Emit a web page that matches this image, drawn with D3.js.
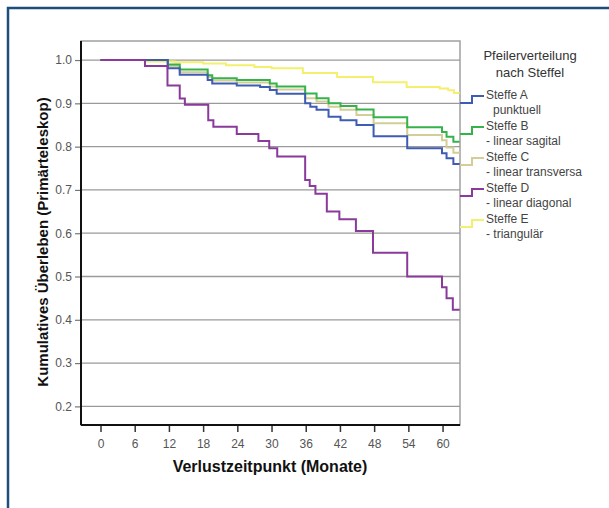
<!DOCTYPE html>
<html>
<head>
<meta charset="utf-8">
<script src="https://cdn.jsdelivr.net/npm/d3@7"></script>
<style>
	body { margin: 0; background: #fff; }
	svg { display: block; font-family: "Liberation Sans", Arial, sans-serif; }
</style>
</head>
<body>
<svg id="chart" width="609" height="508"></svg>
<script>
// Kaplan-Meier steps, [month, cumulative survival]
let stepsA = [[0,1],[11.8,0.981],[13.9,0.966],[18.8,0.954],[19.6,0.946],[23.9,0.941],[28,0.938],[29.7,0.931],[30.9,0.922],[35.9,0.900],[36.8,0.892],[37.9,0.885],[40,0.869],[42.1,0.861],[44.9,0.850],[47.9,0.824],[53.8,0.796],[59.9,0.785],[60.7,0.773],[61.9,0.760],[63,0.760]];
let stepsB = [[0,1],[11.8,0.990],[13.9,0.978],[18.8,0.965],[19.6,0.958],[23.9,0.954],[29.7,0.946],[30.9,0.939],[35.9,0.923],[37.9,0.912],[40,0.900],[42.1,0.894],[44.9,0.886],[47.9,0.868],[53.8,0.845],[59.9,0.834],[60.7,0.823],[61.9,0.811],[63,0.811]];
let stepsC = [[0,1],[11.8,0.986],[13.9,0.972],[18.8,0.961],[19.6,0.953],[23.9,0.948],[29.7,0.939],[30.9,0.932],[35.9,0.912],[37.9,0.904],[40,0.892],[42.1,0.885],[44.9,0.873],[47.9,0.854],[53.8,0.827],[59.9,0.815],[60.7,0.798],[61.9,0.786],[63,0.786]];
let stepsD = [[0,1],[7.8,0.986],[11.75,0.941],[13.9,0.911],[14.8,0.897],[18.9,0.861],[19.8,0.846],[23.9,0.829],[27.7,0.813],[29.6,0.796],[31,0.777],[35.9,0.723],[36.7,0.709],[37.7,0.691],[39.7,0.650],[41.9,0.632],[44.8,0.605],[47.8,0.555],[53.8,0.500],[59.9,0.475],[60.7,0.450],[61.8,0.423],[63,0.423]];
let stepsE = [[0,1],[8,0.9965],[13,0.995],[18,0.992],[22,0.988],[27,0.984],[30,0.981],[35.5,0.970],[41.5,0.961],[47.8,0.949],[53.7,0.938],[59.5,0.934],[61,0.930],[62,0.924],[63,0.924]];

let seriesNames = ["Steffe A", "Steffe B", "Steffe C", "Steffe D", "Steffe E"];
let seriesSub = ["punktuell", "- linear sagital", "- linear transversa", "- linear diagonal", "- triangulär"];
let seriesColours = ["#3f5cb4", "#35b34a", "#d3ce97", "#8a3a9a", "#f4f06e"];
let seriesSteps = [stepsA, stepsB, stepsC, stepsD, stepsE];

let xTicks = [0, 6, 12, 18, 24, 30, 36, 42, 48, 54, 60];
let yTicks = [0.2, 0.3, 0.4, 0.5, 0.6, 0.7, 0.8, 0.9, 1.0];

let svg = d3.select("#chart");

let plotLeft = 81, plotRight = 460, plotTop = 41, plotBottom = 425;

let x = d3.scaleLinear().domain([-3.42, 63.06]).range([plotLeft, plotRight]);
let y = d3.scaleLinear().domain([0.157, 1.044]).range([plotBottom, plotTop]);

// outer frame
svg.append("rect")
	.attr("x", 8).attr("y", 8)
	.attr("width", 640).attr("height", 540)
	.attr("fill", "none")
	.attr("stroke", "#1d4e7e")
	.attr("stroke-width", 2.5);

// plot box
svg.append("rect")
	.attr("x", plotLeft).attr("y", plotTop)
	.attr("width", plotRight - plotLeft).attr("height", plotBottom - plotTop)
	.attr("fill", "#fff")
	.attr("stroke", "#a0a0a0")
	.attr("stroke-width", 1.5);

// gridlines
svg.append("g")
	.selectAll("line")
	.data(yTicks)
	.join("line")
	.attr("x1", plotLeft).attr("x2", plotRight)
	.attr("y1", d => y(d)).attr("y2", d => y(d))
	.attr("stroke", "#9a9a9a")
	.attr("stroke-width", 1.3);

// y axis
let yAxis = svg.append("g")
	.attr("transform", `translate(${plotLeft},0)`)
	.call(d3.axisLeft(y).tickValues(yTicks).tickFormat(d3.format(".1f")).tickSize(6).tickSizeOuter(0));
yAxis.select(".domain").remove();
yAxis.selectAll(".tick line").attr("stroke", "#777").attr("stroke-width", 1.2);
yAxis.selectAll(".tick text")
	.attr("font-size", 12)
	.attr("fill", "#555")
	.attr("font-family", "Liberation Sans, Arial, sans-serif");

// x axis
let xAxis = svg.append("g")
	.attr("transform", `translate(0,${plotBottom})`)
	.call(d3.axisBottom(x).tickValues(xTicks).tickSize(7).tickSizeOuter(0));
xAxis.select(".domain").remove();
xAxis.selectAll(".tick line").attr("stroke", "#333").attr("stroke-width", 1.5);
xAxis.selectAll(".tick text")
	.attr("font-size", 12)
	.attr("fill", "#555")
	.attr("dy", "1.1em")
	.attr("font-family", "Liberation Sans, Arial, sans-serif");

// black axis lines
svg.append("line")
	.attr("x1", plotLeft).attr("x2", plotLeft).attr("y1", plotTop).attr("y2", plotBottom)
	.attr("stroke", "#111").attr("stroke-width", 2);
svg.append("line")
	.attr("x1", plotLeft).attr("x2", plotRight).attr("y1", plotBottom).attr("y2", plotBottom)
	.attr("stroke", "#111").attr("stroke-width", 2);

// survival curves
let lineGen = d3.line()
	.curve(d3.curveStepAfter)
	.x(d => x(d[0]))
	.y(d => y(d[1]));

// draw yellow first so the others sit on top, purple last
[4, 2, 1, 0, 3].forEach(i => {
	svg.append("path")
		.attr("d", lineGen(seriesSteps[i]))
		.attr("fill", "none")
		.attr("stroke", seriesColours[i])
		.attr("stroke-width", 2);
});

// axis titles
svg.append("text")
	.attr("x", 270).attr("y", 472)
	.attr("text-anchor", "middle")
	.attr("font-size", 16)
	.attr("font-weight", "bold")
	.attr("fill", "#111")
	.text("Verlustzeitpunkt (Monate)");

svg.append("text")
	.attr("transform", "translate(48,242) rotate(-90)")
	.attr("text-anchor", "middle")
	.attr("font-size", 15)
	.attr("font-weight", "bold")
	.attr("fill", "#111")
	.text("Kumulatives Überleben (Primärteleskop)");

// legend
let legend = svg.append("g");
legend.append("text")
	.attr("x", 530).attr("y", 60)
	.attr("text-anchor", "middle")
	.attr("font-size", 13)
	.attr("fill", "#333")
	.text("Pfeilerverteilung");
legend.append("text")
	.attr("x", 530).attr("y", 77)
	.attr("text-anchor", "middle")
	.attr("font-size", 13)
	.attr("fill", "#333")
	.text("nach Steffel");

let legendTop = [95, 126, 157, 188, 219];
seriesNames.forEach((name, i) => {
	let ly = legendTop[i];
	legend.append("path")
		.attr("d", `M${plotRight},${ly + 8}H${plotRight + 12}V${ly + 1}H${plotRight + 24}`)
		.attr("fill", "none")
		.attr("stroke", seriesColours[i])
		.attr("stroke-width", 2);
	legend.append("text")
		.attr("x", 486).attr("y", ly + 4)
		.attr("font-size", 12)
		.attr("fill", "#444")
		.text(name);
	legend.append("text")
		.attr("x", i == 0 ? 493 : 486).attr("y", ly + 19)
		.attr("font-size", 12)
		.attr("fill", "#444")
		.text(seriesSub[i]);
});
</script>
</body>
</html>
